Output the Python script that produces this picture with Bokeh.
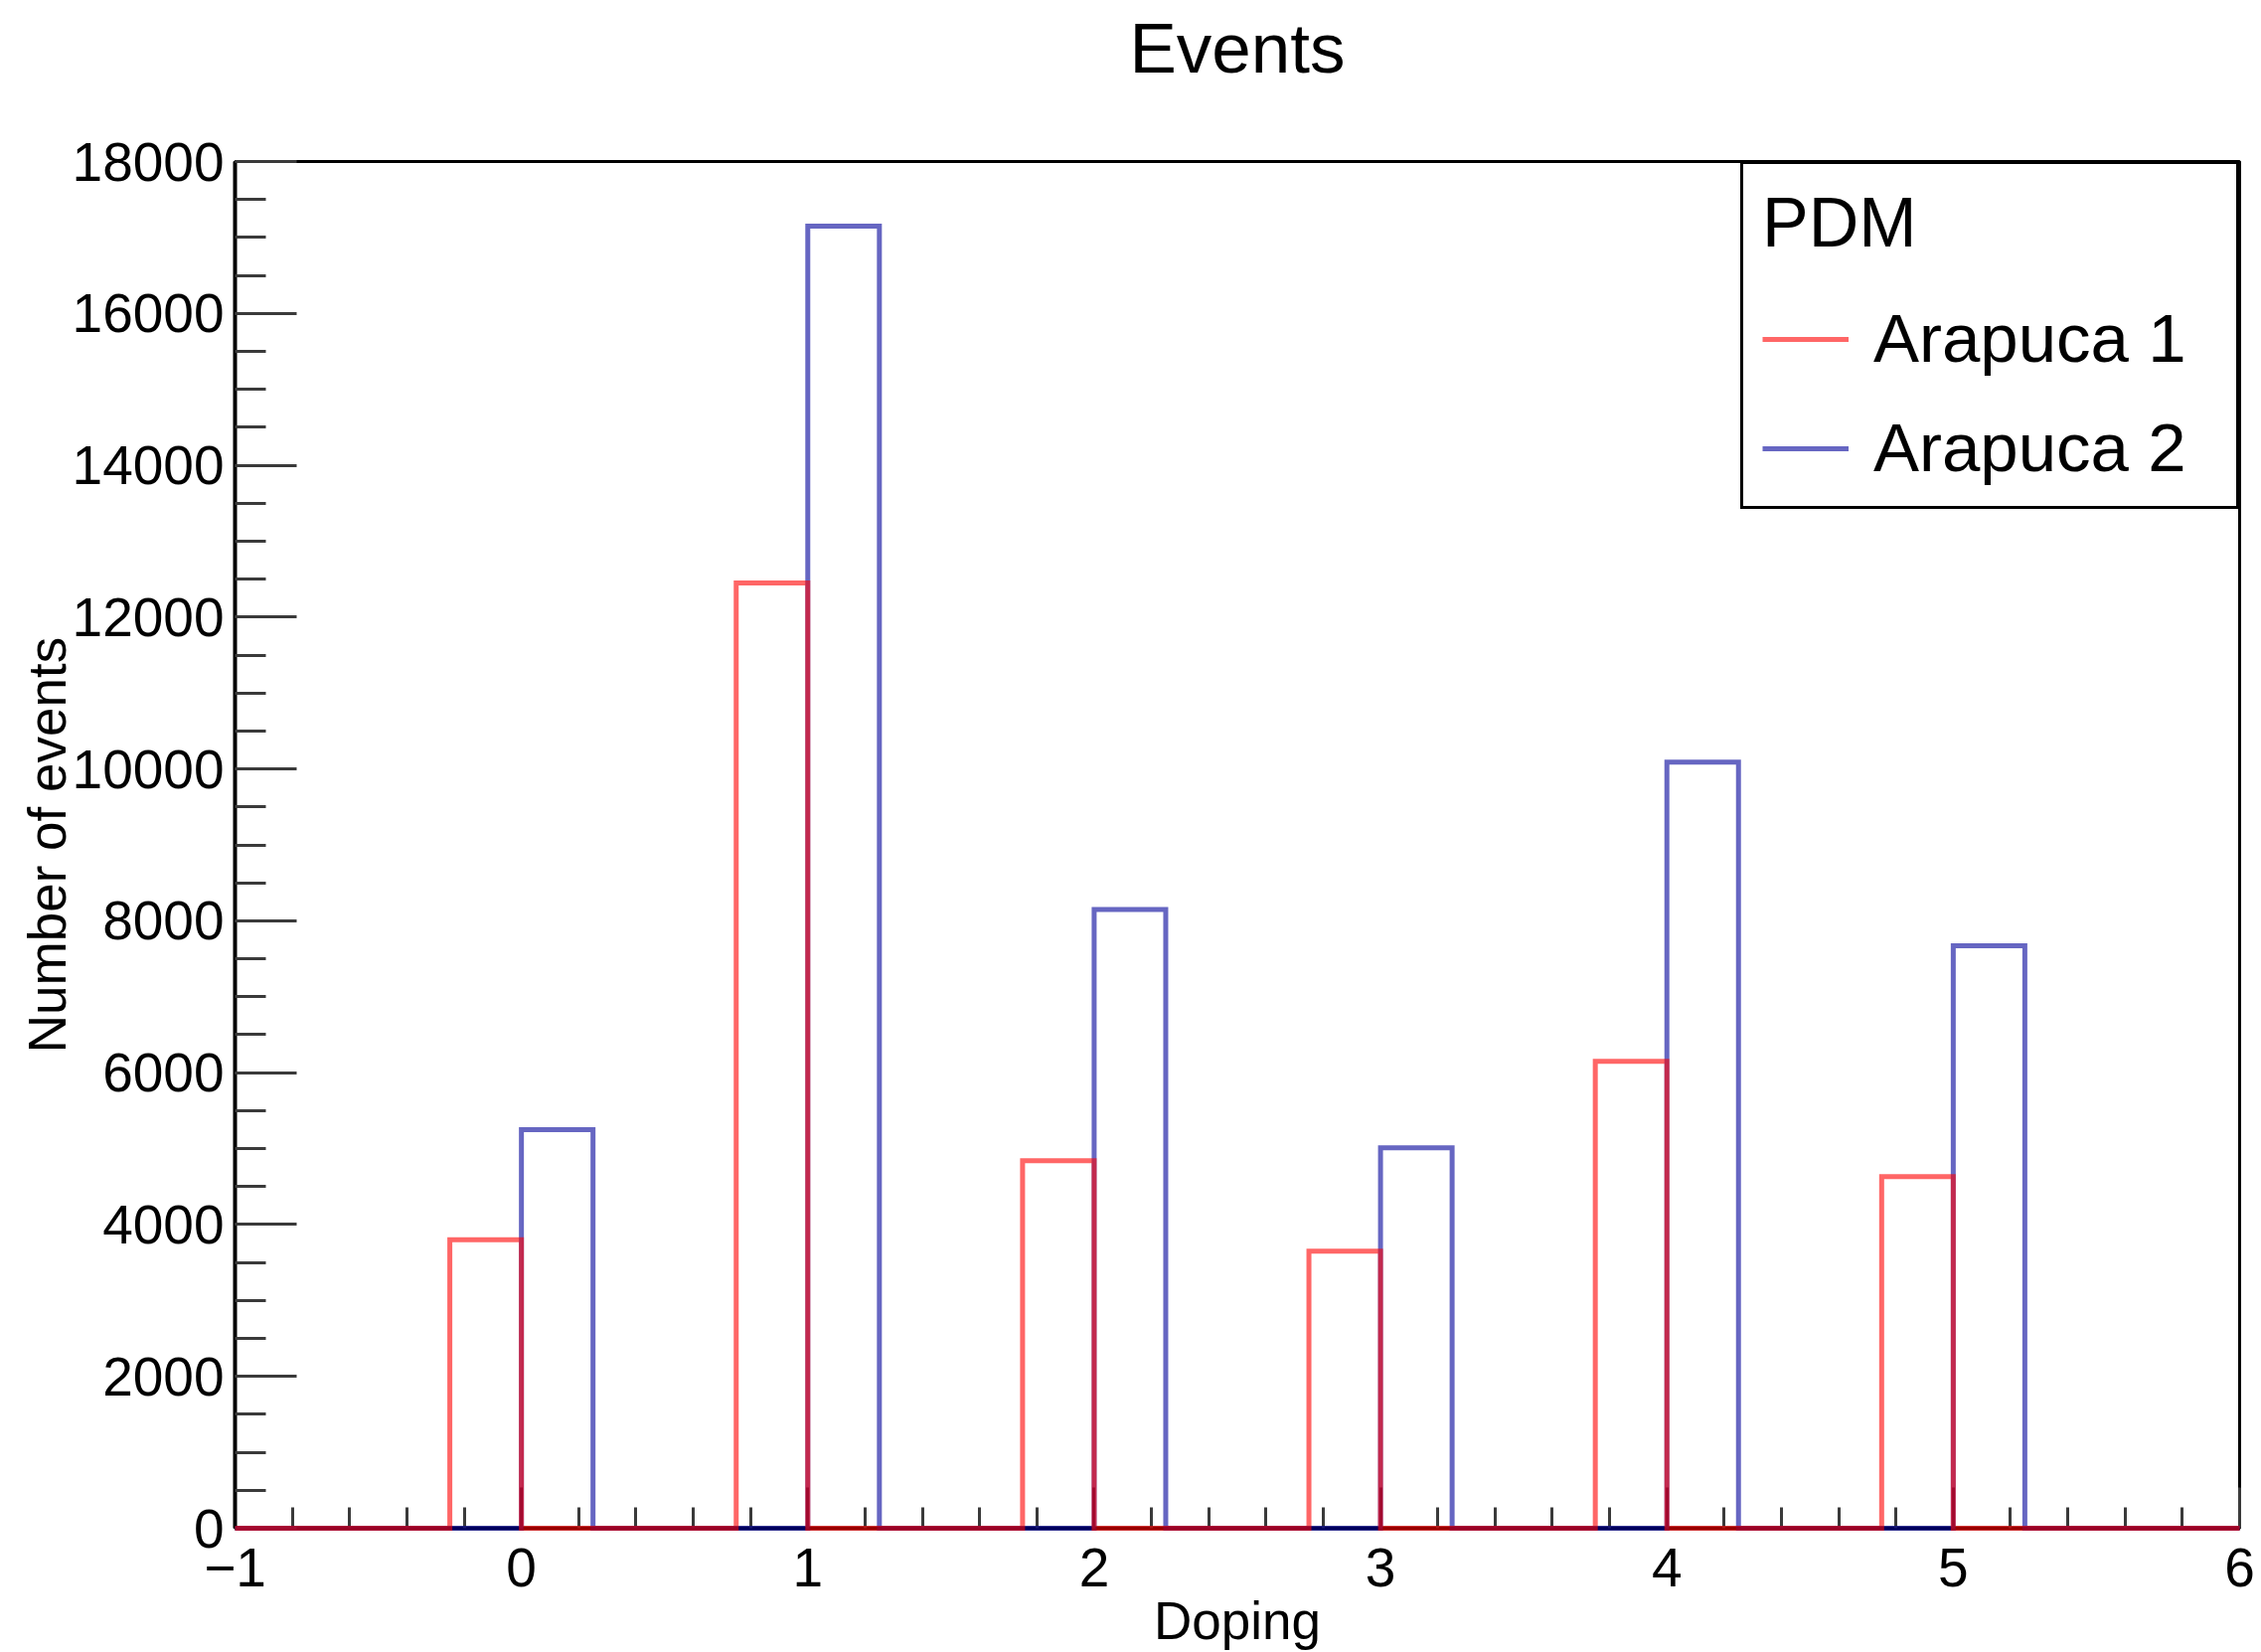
import numpy as np
from bokeh.plotting import figure
from bokeh.models import (Range1d, SingleIntervalTicker, FixedTicker, LinearAxis,
                          Legend, LegendItem)
from bokeh.embed import file_html
from bokeh.resources import INLINE

# Event counts per doping step for the two Arapuca modules
doping = [0, 1, 2, 3, 4, 5]
arapuca_1 = [3800, 12450, 4840, 3650, 6150, 4630]
arapuca_2 = [5250, 17150, 8150, 5010, 10090, 7670]
series_names = ["Arapuca 1", "Arapuca 2"]
title_text = "Events"
x_title = "Doping"
y_title = "Number of events"

x_min, x_max, bin_width = -1.0, 6.0, 0.25
y_min, y_max = 0, 18000
edges = np.arange(x_min, x_max + bin_width / 2, bin_width)
n_bins = len(edges) - 1


def fill_hist(values, offset):
    """Fill a fixed-width histogram: one bin per doping value, shifted by offset."""
    counts = np.zeros(n_bins)
    for d, v in zip(doping, values):
        idx = int(round((d + offset - x_min) / bin_width))
        counts[idx] = v
    return counts


def outline(counts):
    """Step outline of a histogram (x/y lists along the bin edges)."""
    xs, ys = [edges[0]], [0.0]
    for i, c in enumerate(counts):
        xs += [edges[i], edges[i + 1]]
        ys += [c, c]
    xs.append(edges[-1])
    ys.append(0.0)
    return xs, ys


h1 = fill_hist(arapuca_1, -0.25)   # left half of each doping slot
h2 = fill_hist(arapuca_2, 0.0)     # right half of each doping slot

FONT = "Liberation Sans"
RED = "#ff0000"
BLUE = "#000099"
TICK = "#3a3a3a"

p = figure(width=2275, height=1662, output_backend="svg", toolbar_location=None,
           x_range=Range1d(x_min, x_max), y_range=Range1d(y_min, y_max),
           min_border_left=236, min_border_right=22, min_border_top=162,
           min_border_bottom=125)
p.background_fill_color = "white"
p.border_fill_color = "white"
p.grid.visible = False
p.outline_line_color = "black"
p.outline_line_width = 3

p.xaxis.ticker = SingleIntervalTicker(interval=1, num_minor_ticks=5)
p.yaxis.ticker = SingleIntervalTicker(interval=2000, num_minor_ticks=4)
p.xaxis.major_label_overrides = {-1: "\u22121"}

for ax in (p.xaxis[0], p.yaxis[0]):
    ax.axis_line_color = "black"
    ax.axis_line_width = 4
    ax.major_tick_out = 0
    ax.minor_tick_out = 0
    ax.major_tick_line_color = TICK
    ax.minor_tick_line_color = TICK
    ax.major_tick_line_width = 3
    ax.minor_tick_line_width = 3
    ax.major_label_text_font = FONT
    ax.major_label_text_font_size = "55px"
    ax.major_label_text_color = "black"
    ax.axis_label_text_font = FONT
    ax.axis_label_text_font_size = "53px"
    ax.axis_label_text_font_style = "normal"
    ax.axis_label_text_color = "black"

p.xaxis.major_tick_in = 41
p.xaxis.minor_tick_in = 21
p.yaxis.major_tick_in = 62
p.yaxis.minor_tick_in = 31
p.xaxis.major_label_standoff = 20
p.yaxis.major_label_standoff = 11
p.xaxis.axis_label = x_title
p.xaxis.axis_label_standoff = 2
p.yaxis.axis_label = y_title
p.yaxis.axis_label_standoff = -7

# Plot title: a bare axis above the frame that only carries a label
title_axis = LinearAxis(ticker=FixedTicker(ticks=[], minor_ticks=[]),
                        axis_label=title_text, axis_line_color=None,
                        major_tick_out=0, major_tick_in=0,
                        minor_tick_out=0, minor_tick_in=0,
                        major_label_text_font_size="0px",
                        axis_label_standoff=75)
title_axis.axis_label_text_font = FONT
title_axis.axis_label_text_font_size = "71px"
title_axis.axis_label_text_font_style = "normal"
title_axis.axis_label_text_color = "black"
p.add_layout(title_axis, "above")

x2, y2 = outline(h2)
x1, y1 = outline(h1)
r2 = p.line(x2, y2, line_color=BLUE, line_alpha=0.6, line_width=5,
            line_join="miter", level="overlay")
r1 = p.line(x1, y1, line_color=RED, line_alpha=0.6, line_width=5,
            line_join="miter", level="overlay")

legend = Legend(items=[LegendItem(label=series_names[0], renderers=[r1]),
                       LegendItem(label=series_names[1], renderers=[r2])],
                location="top_right")
legend.title = "PDM"
legend.title_text_font = FONT
legend.title_text_font_size = "70px"
legend.title_text_font_style = "normal"
legend.title_text_color = "black"
legend.title_standoff = 37
legend.label_text_font = FONT
legend.label_text_font_size = "69px"
legend.label_text_color = "black"
legend.label_height = 78
legend.label_width = 346
legend.label_standoff = 25
legend.glyph_width = 87
legend.glyph_height = 78
legend.padding = 19
legend.spacing = 31
legend.margin = 0
legend.border_line_color = "black"
legend.border_line_alpha = 1.0
legend.border_line_width = 3
legend.background_fill_color = "white"
legend.background_fill_alpha = 1.0
p.add_layout(legend, "center")

open("out.html", "w").write(file_html(p, INLINE))
